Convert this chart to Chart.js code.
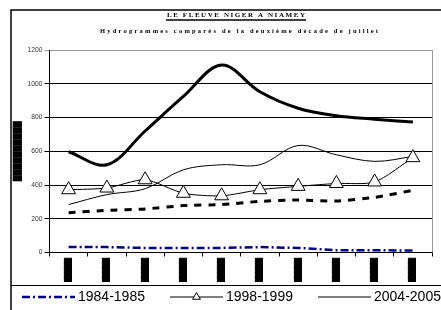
<!DOCTYPE html>
<html>
<head>
<meta charset="utf-8">
<script src="https://cdn.jsdelivr.net/npm/chart.js@4/dist/chart.umd.min.js"></script>
<style>
  body { margin: 0; background: #fff; }
  canvas { display: block; }
</style>
</head>
<body>
<canvas id="myChart" width="441" height="310"></canvas>
<script>
// data
const categories = ['█████', '█████', '█████', '█████', '█████', '█████', '█████', '█████', '█████', '█████'];
const labels = ['1984-1985', '1998-1999', '2004-2005', '2005-2006', '2006-2007'];
const s1984 = [32, 32, 27, 27, 27, 32, 27, 14, 13, 12];
const s1998 = [372, 382, 431, 351, 336, 372, 392, 409, 418, 562];
const s2004 = [284, 343, 378, 490, 520, 520, 634, 579, 540, 569];
const sThick = [597, 520, 720, 925, 1111, 953, 855, 810, 790, 773];
const sDashed = [236, 250, 258, 278, 284, 303, 311, 305, 327, 368];
const yTicks = [0, 200, 400, 600, 800, 1000, 1200];

const titleText = 'LE FLEUVE NIGER A NIAMEY';
const subtitleText = 'Hydrogrammes comparés de la deuxième décade de juillet';

// letter spaced text, drawn char by char
function drawSpaced(ctx, text, cx, cy, font, targetW) {
    ctx.font = font;
    const widths = [...text].map(c => ctx.measureText(c).width);
    const total = widths.reduce((a, b) => a + b, 0);
    const gap = (targetW - total) / (text.length - 1);
    let x = cx - targetW / 2;
    ctx.textBaseline = 'middle';
    ctx.textAlign = 'left';
    [...text].forEach((c, i) => {
        ctx.fillText(c, x, cy);
        x += widths[i] + gap;
    });
}

const framePlugin = {
    id: 'frame',
    beforeDatasetsDraw(chart) {
        const ctx = chart.ctx;
        const a = chart.chartArea;
        ctx.save();
        ctx.strokeStyle = '#999';
        ctx.lineWidth = 1;
        ctx.beginPath();
        ctx.moveTo(Math.round(a.right) + 0.5, a.top);
        ctx.lineTo(Math.round(a.right) + 0.5, a.bottom);
        ctx.stroke();
        ctx.restore();
    },
    afterDraw(chart) {
        const ctx = chart.ctx;
        ctx.save();
        // outer frame
        ctx.strokeStyle = '#000';
        ctx.lineWidth = 1.5;
        ctx.beginPath();
        ctx.moveTo(11, 310);
        ctx.lineTo(11, 10);
        ctx.lineTo(441, 10);
        ctx.stroke();
        ctx.lineWidth = 1;
        ctx.beginPath();
        ctx.moveTo(11, 285.5);
        ctx.lineTo(441, 285.5);
        ctx.stroke();

        // titles
        ctx.fillStyle = '#000';
        drawSpaced(ctx, titleText, 236, 15.5, 'bold 7px "Liberation Serif"', 138);
        ctx.lineWidth = 1.5;
        ctx.beginPath();
        ctx.moveTo(166, 20);
        ctx.lineTo(306, 20);
        ctx.stroke();
        drawSpaced(ctx, subtitleText, 239, 31, 'bold 6.5px "Liberation Serif"', 278);

        // legend, excel style (runs off the right edge)
        const y = 297;
        chart.data.datasets.forEach((ds, i) => {
            const x0 = 22 + i * 148;
            ctx.strokeStyle = ds.borderColor;
            ctx.lineWidth = Math.min(ds.borderWidth, 2.5);
            ctx.setLineDash(ds.borderDash || []);
            ctx.beginPath();
            ctx.moveTo(x0, y);
            ctx.lineTo(x0 + 53, y);
            ctx.stroke();
            ctx.setLineDash([]);
            if (ds.pointStyle === 'triangle') {
                const cx = x0 + 26.5, r = 4.5;
                ctx.beginPath();
                ctx.moveTo(cx, y - r);
                ctx.lineTo(cx + r * 0.87, y + r * 0.5);
                ctx.lineTo(cx - r * 0.87, y + r * 0.5);
                ctx.closePath();
                ctx.fillStyle = '#fff';
                ctx.fill();
                ctx.lineWidth = 1;
                ctx.strokeStyle = '#000';
                ctx.stroke();
            }
            ctx.fillStyle = '#000';
            ctx.font = '14px "Liberation Sans"';
            ctx.textAlign = 'left';
            ctx.textBaseline = 'middle';
            ctx.fillText(ds.label, x0 + 56, y);
        });
        ctx.restore();
    }
};

const ctx = document.getElementById('myChart').getContext('2d');
new Chart(ctx, {
    type: 'line',
    data: {
        labels: categories,
        datasets: [
            {
                label: labels[0], data: s1984,
                borderColor: '#000080', borderWidth: 2.5, borderDash: [8, 3, 2, 3],
                pointRadius: 0, tension: 0
            },
            {
                label: labels[1], data: s1998,
                borderColor: '#000', borderWidth: 1, tension: 0.25,
                pointStyle: 'triangle', pointRadius: 8, pointBackgroundColor: '#fff',
                pointBorderColor: '#000', pointBorderWidth: 1
            },
            {
                label: labels[2], data: s2004,
                borderColor: '#000', borderWidth: 1, pointRadius: 0, tension: 0.35
            },
            {
                label: labels[3], data: sThick,
                borderColor: '#000', borderWidth: 3, pointRadius: 0, tension: 0.35
            },
            {
                label: labels[4], data: sDashed,
                borderColor: '#000', borderWidth: 3, borderDash: [7, 7],
                pointRadius: 0, tension: 0.2
            }
        ]
    },
    options: {
        responsive: false,
        animation: false,
        layout: { padding: { left: 12, top: 50, right: 9, bottom: 26 } },
        plugins: {
            legend: { display: false },
            title: { display: false },
            tooltip: { enabled: false }
        },
        scales: {
            x: {
                offset: true,
                grid: { offset: true, drawOnChartArea: false, drawTicks: true, tickLength: 4, color: '#000' },
                border: { color: '#000' },
                ticks: {
                    autoSkip: false, minRotation: 90, maxRotation: 90, padding: 2,
                    color: '#000', font: { family: 'DejaVu Sans', size: 6 },
                    textStrokeColor: '#000', textStrokeWidth: 1
                },
                afterFit(scale) { scale.height = 31.5; }
            },
            y: {
                min: 0, max: 1200,
                afterBuildTicks(scale) { scale.ticks = yTicks.map(v => ({ value: v })); },
                grid: {
                    color: c => c.tick && c.tick.value === 1200 ? '#999' : '#000',
                    tickLength: 5, lineWidth: 1
                },
                border: { color: '#000' },
                ticks: {
                    padding: 2, color: '#333',
                    font: { family: 'Liberation Sans', size: 6.7 },
                    callback: v => String(v)
                },
                title: {
                    display: true, text: '██████████', color: '#000',
                    font: { family: 'DejaVu Sans', size: 7.8 },
                    padding: { top: 1, bottom: 0 }
                },
                afterFit(scale) { scale.width = 37.5; }
            }
        }
    },
    plugins: [framePlugin]
});
</script>
</body>
</html>
